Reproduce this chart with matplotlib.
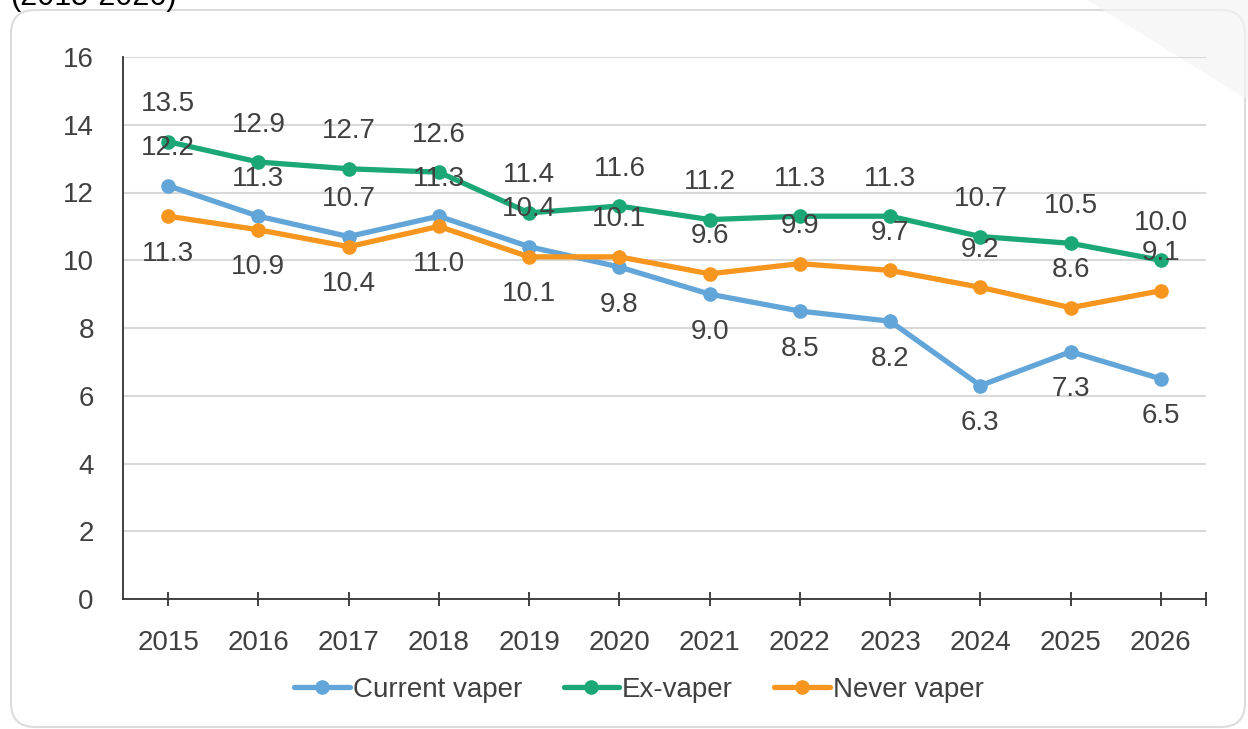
import matplotlib
matplotlib.use("Agg")
import matplotlib.pyplot as plt
from matplotlib.patches import FancyBboxPatch, Polygon
from matplotlib.transforms import IdentityTransform

plt.rcParams['font.family'] = ['Liberation Sans', 'DejaVu Sans']

years = ['2015', '2016', '2017', '2018', '2019', '2020', '2021', '2022', '2023', '2024', '2025', '2026']
current_vaper = [12.2, 11.3, 10.7, 11.3, 10.4, 9.8, 9.0, 8.5, 8.2, 6.3, 7.3, 6.5]
ex_vaper = [13.5, 12.9, 12.7, 12.6, 11.4, 11.6, 11.2, 11.3, 11.3, 10.7, 10.5, 10.0]
never_vaper = [11.3, 10.9, 10.4, 11.0, 10.1, 10.1, 9.6, 9.9, 9.7, 9.2, 8.6, 9.1]
series_names = ['Current vaper', 'Ex-vaper', 'Never vaper']
y_ticks = [0, 2, 4, 6, 8, 10, 12, 14, 16]

colors = ['#62A5D8', '#1BA876', '#F7961E']
# label placement (+1 above, -1 below) for each point
placement = [
    [1, 1, 1, 1, 1, -1, -1, -1, -1, -1, -1, -1],
    [1] * 12,
    [-1, -1, -1, -1, -1, 1, 1, 1, 1, 1, 1, 1],
]

text_color = '#404040'
W, H = 1248, 729
fig = plt.figure(figsize=(W / 100, H / 100), dpi=100)

# background panel (pixel coordinates, origin bottom-left)
panel = FancyBboxPatch((11, 2), 1245 - 11, 719 - 2,
                       boxstyle="round,pad=0,rounding_size=24",
                       transform=IdentityTransform(), facecolor='white',
                       edgecolor='#dcdcdc', linewidth=1.5, zorder=-2)
fig.patches.append(panel)
tri = Polygon([(1087 / W, 1.0), (1.0, 1.0), (1.0, 1 - 100 / H)], closed=True,
              transform=fig.transFigure, facecolor='#f4f4f4', edgecolor='none',
              alpha=0.7, zorder=-1)
fig.patches.append(tri)

fig.text(10 / W, 1 - 5 / H, '(2015-2026)', fontsize=22, color='black',
         va='baseline', ha='left')

ax = fig.add_axes([123 / W, 1 - 599 / H, (1206 - 123) / W, (599 - 57) / H])
ax.set_facecolor('none')
x = list(range(len(years)))
all_series = [current_vaper, ex_vaper, never_vaper]
for vals, name, c in zip(all_series, series_names, colors):
    ax.plot(x, vals, color=c, lw=3.8, marker='o', markersize=9.5, label=name,
            solid_capstyle='round', solid_joinstyle='round', zorder=3)

for vals, place in zip(all_series, placement):
    for xi, v, p in zip(x, vals, place):
        ax.annotate(f'{v:.1f}', (xi, v), xytext=(0, 27 * p), textcoords='offset points',
                    ha='center', va='center', fontsize=20, color=text_color, zorder=5)

ax.set_xlim(-0.5, 11.5)
ax.set_ylim(0, 16)
ax.set_yticks(y_ticks)
ax.set_yticklabels([str(t) for t in y_ticks])
ax.set_xticks(x)
ax.set_xticklabels(years)
ax.set_xticks([11.5], minor=True)
ax.tick_params(axis='y', length=0, pad=21, labelsize=20, labelcolor=text_color)
ax.tick_params(axis='x', which='both', direction='inout', length=10, width=1.3,
               color='#333333', pad=17, labelsize=20, labelcolor=text_color)
ax.grid(axis='y', color='#d9d9d9', lw=1.5, zorder=0)
for s in ['top', 'right']:
    ax.spines[s].set_visible(False)
for s in ['left', 'bottom']:
    ax.spines[s].set_color('#333333')
    ax.spines[s].set_linewidth(1.3)
ax.set_axisbelow(True)

leg = fig.legend(loc='center', bbox_to_anchor=(0.512, 1 - 690 / H), ncol=3, frameon=False,
                 fontsize=20, handlelength=2.0, handletextpad=0.1, columnspacing=1.5,
                 labelcolor=text_color)

fig.savefig('out.png', dpi=100)
